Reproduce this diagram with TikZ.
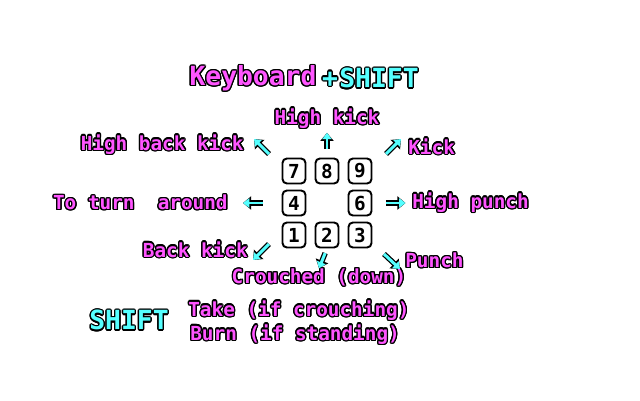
\documentclass[tikz,border=0pt]{standalone}
\usepackage{fontspec}
\setmonofont{DejaVu Sans Mono}
\usepackage{xcolor}
\usepackage{tikz}
\usetikzlibrary{arrows.meta}
\usepackage{contour}
\contourlength{0.75pt}
\contournumber{16}

\definecolor{dosmagenta}{HTML}{FF55FF}
\definecolor{doscyan}{HTML}{55FFFF}

\newcommand{\magtxt}[1]{\contour{black}{\textcolor{dosmagenta}{#1}}}
\newcommand{\cyatxt}[1]{\contour{black}{\textcolor{doscyan}{#1}}}

\begin{document}
\begin{tikzpicture}[x=0.02cm,y=0.02cm]
        % Styles for texts, keys and arrows
        \tikzstyle{movetext}=[font=\ttfamily\bfseries\fontsize{11}{13}\selectfont, inner sep=0pt];
        \tikzstyle{bigtext}=[font=\ttfamily\bfseries\fontsize{15}{18}\selectfont, inner sep=0pt];
        \tikzstyle{keycap}=[draw=black, line width=1.1pt, rounded corners=2.5pt, fill=white,
            minimum width=0.46cm, minimum height=0.5cm, inner sep=0pt,
            font=\ttfamily\bfseries\fontsize{11}{13}\selectfont];
        \tikzstyle{cyanarrow}=[draw=doscyan, line width=1.7pt, -{Triangle[length=3.6pt,width=5.2pt]},
            preaction={draw=black, line width=3.1pt, -{Triangle[length=4.6pt,width=7.4pt]}}];

        % Frame of the screen
        \useasboundingbox[fill=white] (0,0) rectangle (640,400);

        % Title
        \node[bigtext] (kbd) at (253,321) {\magtxt{Keyboard}};
        \node[bigtext] (plus) at (330,320) {\cyatxt{+}};
        \node[bigtext] (shift) at (379,321) {\cyatxt{SHIFT}};

        % Keypad
        \foreach \n/\x/\y in {7/294/229, 8/327/229, 9/360/229,
                              4/294/197, 6/360/197,
                              1/294/165, 2/327/165, 3/360/165}
            \node[keycap] (k\n) at (\x,\y) {\n};

        % Moves
        \node[movetext] (hk) at (327,281) {\magtxt{High kick}};
        \node[movetext, anchor=east] (hbk) at (244,255) {\magtxt{High back kick}};
        \node[movetext, anchor=west] (kick) at (408,253) {\magtxt{Kick}};
        \node[movetext, anchor=east] (turn) at (228,197) {\magtxt{To turn\ \ around}};
        \node[movetext, anchor=west] (hp) at (412,197) {\magtxt{High punch}};
        \node[movetext, anchor=east] (bk) at (248,150) {\magtxt{Back kick}};
        \node[movetext] (crouch) at (319,122) {\magtxt{Crouched (down)}};
        \node[movetext, anchor=west] (punch) at (405,139) {\magtxt{Punch}};

        % Arrows
        \coordinate (nwtail) at (269,246);
        \coordinate (nwtip) at (254,261);
        \coordinate (netail) at (386,246);
        \coordinate (netip) at (401,261);
        \coordinate (swtail) at (269,156);
        \coordinate (swtip) at (253,140);
        \coordinate (setail) at (384,146);
        \coordinate (setip) at (400,131);
        \draw[cyanarrow, shorten <=0.17cm, shorten >=0.06cm] (k8.north) -- (hk.south);
        \draw[cyanarrow, shorten <=0.1cm, shorten >=0cm] (k2.south) -- (crouch.north);
        \draw[cyanarrow, shorten <=0.38cm, shorten >=0.3cm] (k4.west) -- (turn.east);
        \draw[cyanarrow, shorten <=0.27cm, shorten >=0.13cm] (k6.east) -- (hp.west);
        \draw[cyanarrow] (nwtail) -- (nwtip);
        \draw[cyanarrow] (netail) -- (netip);
        \draw[cyanarrow] (swtail) -- (swtip);
        \draw[cyanarrow] (setail) -- (setip);

        % SHIFT alone
        \node[bigtext] (shiftb) at (129,79) {\cyatxt{SHIFT}};
        \node[movetext, anchor=west] (take) at (188,89) {\magtxt{Take (if crouching)}};
        \node[movetext, anchor=west] (burn) at (190,65) {\magtxt{Burn (if standing)}};

    \end{tikzpicture}
\end{document}
